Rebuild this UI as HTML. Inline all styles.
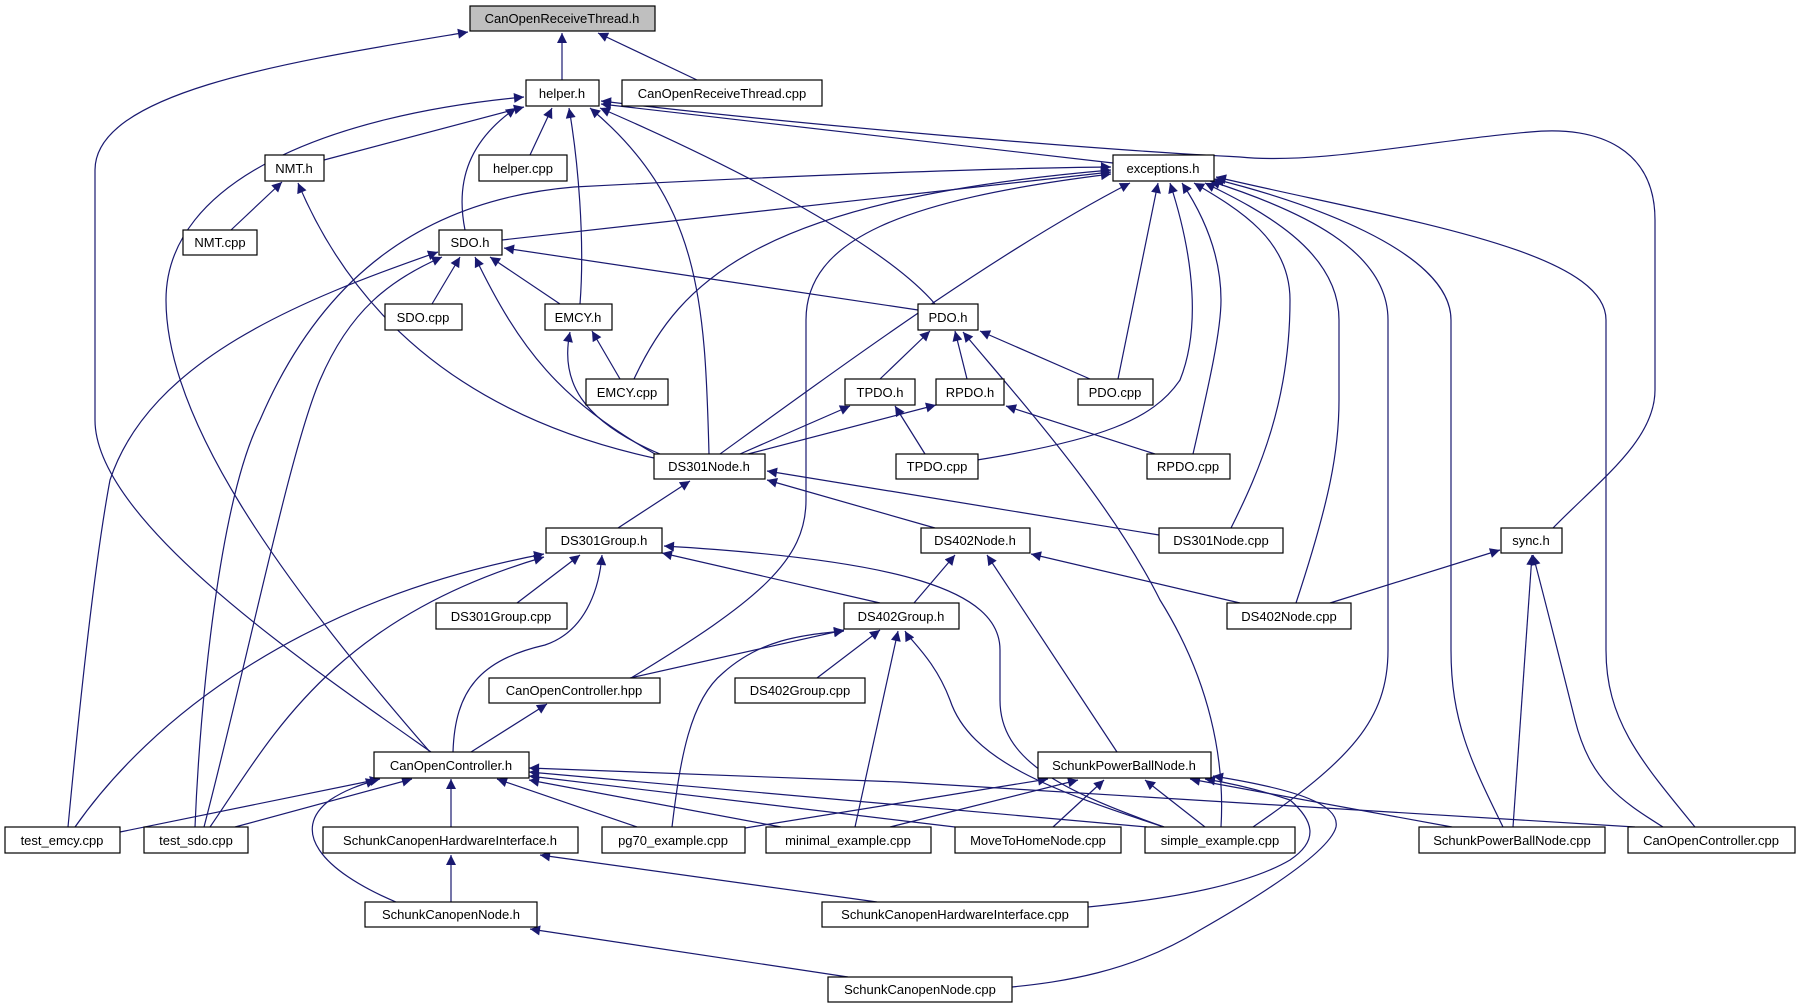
<!DOCTYPE html>
<html><head><meta charset="utf-8"><style>
html,body{margin:0;padding:0;background:#fff;}
svg{display:block;}
text{font-family:"Liberation Sans","DejaVu Sans",sans-serif;font-size:13px;fill:#000;}
</style></head><body>
<svg width="1819" height="1008" viewBox="0 0 1819 1008" xmlns="http://www.w3.org/2000/svg">
<defs>
<marker id="a" viewBox="0 0 10 10" refX="10" refY="5" markerWidth="13" markerHeight="10" markerUnits="userSpaceOnUse" orient="auto"><path d="M0,0 L10,5 L0,10z" fill="#191970"/></marker>
</defs>
<g fill="none" stroke="#191970" stroke-width="1.2" marker-end="url(#a)">
<path d="M562,80 L562,33"/>
<path d="M697,80 L598,33"/>
<path d="M431,752 C300,660 95,520 95,420 L95,170 C95,90 300,60 468,32"/>
<path d="M430,752 C280,580 166,420 166,300 C166,180 330,115 524,97"/>
<path d="M324,160 L524,107"/>
<path d="M530,155 L552,108"/>
<path d="M465,230 C455,180 470,140 516,108"/>
<path d="M580,304 C585,240 578,160 569,108"/>
<path d="M709,454 C705,300 700,200 590,108"/>
<path d="M935,304 C880,240 720,160 600,108"/>
<path d="M1113,163 L601,104"/>
<path d="M1553,528 C1600,480 1655,440 1655,390 L1655,220 C1655,150 1600,125 1530,132 C1430,140 1320,165 1240,157 C1100,150 800,125 601,101"/>
<path d="M502,240 L1111,172"/>
<path d="M634,379 C680,280 760,200 1111,170"/>
<path d="M720,454 C850,360 1000,250 1130,183"/>
<path d="M631,678 C760,600 806,560 806,500 L806,320 C806,240 900,200 1111,174"/>
<path d="M195,827 C200,700 220,500 260,420 C320,280 420,200 574,187 C800,175 1000,168 1111,167"/>
<path d="M1118,379 L1158,183"/>
<path d="M977,460 C1100,440 1153,420 1180,380 C1200,330 1195,260 1170,183"/>
<path d="M1193,454 C1210,380 1221,330 1221,300 C1221,250 1200,210 1182,183"/>
<path d="M1231,528 C1260,470 1290,400 1290,300 C1290,240 1240,210 1194,183"/>
<path d="M1296,603 C1330,500 1339,450 1339,400 L1339,320 C1339,250 1260,210 1205,183"/>
<path d="M1253,827 C1350,760 1388,720 1388,650 L1388,320 C1388,250 1300,210 1210,181"/>
<path d="M1503,827 C1470,760 1451,720 1451,650 L1451,320 C1451,250 1300,200 1214,179"/>
<path d="M1695,827 C1640,760 1606,720 1606,650 L1606,320 C1606,250 1400,220 1216,177"/>
<path d="M432,304 L460,257"/>
<path d="M560,304 L490,257"/>
<path d="M655,454 C560,400 520,350 475,257"/>
<path d="M918,310 L504,248"/>
<path d="M68,827 C80,700 95,560 110,480 C150,360 300,300 438,252"/>
<path d="M204,827 C250,650 290,450 320,380 C350,310 390,280 442,257"/>
<path d="M231,230 L282,182"/>
<path d="M654,458 C480,420 360,330 298,183"/>
<path d="M620,379 L592,331"/>
<path d="M660,454 C580,420 560,380 570,332"/>
<path d="M880,379 L930,331"/>
<path d="M967,379 L955,331"/>
<path d="M1090,379 L980,331"/>
<path d="M1221,827 C1225,760 1210,680 1160,600 C1110,500 1020,400 963,332"/>
<path d="M740,454 L850,406"/>
<path d="M925,454 L895,406"/>
<path d="M748,454 L936,405"/>
<path d="M1155,454 L1006,406"/>
<path d="M618,528 L690,481"/>
<path d="M935,528 L767,480"/>
<path d="M1159,535 L767,471"/>
<path d="M517,603 L580,555"/>
<path d="M880,603 L662,553"/>
<path d="M75,827 C150,720 300,600 544,554"/>
<path d="M210,827 C270,740 330,620 544,557"/>
<path d="M453,752 C455,690 480,660 545,645 C590,630 600,580 602,555"/>
<path d="M1164,827 C1060,790 1000,760 1000,700 L1000,650 C1000,590 900,560 664,546"/>
<path d="M914,603 L955,555"/>
<path d="M1117,752 L987,555"/>
<path d="M1240,603 L1031,554"/>
<path d="M1330,603 L1500,550"/>
<path d="M1513,827 L1532,555"/>
<path d="M1663,827 C1620,800 1590,780 1575,720 C1555,640 1545,600 1533,555"/>
<path d="M630,678 L844,630"/>
<path d="M817,678 L880,630"/>
<path d="M672,827 C680,760 690,700 723,673 C760,640 800,635 844,631"/>
<path d="M855,827 L898,631"/>
<path d="M1164,827 C1050,790 970,760 950,700 C935,660 910,640 905,631"/>
<path d="M471,752 L547,704"/>
<path d="M120,832 L380,779"/>
<path d="M235,827 L412,779"/>
<path d="M451,827 L451,779"/>
<path d="M637,827 L497,779"/>
<path d="M781,827 L529,780"/>
<path d="M955,827 L529,776"/>
<path d="M1147,827 L529,772"/>
<path d="M1635,827 L900,782 L529,768"/>
<path d="M396,902 C320,870 290,830 330,800 C345,790 360,785 376,780"/>
<path d="M451,902 L451,855"/>
<path d="M877,902 L540,855"/>
<path d="M848,977 L530,929"/>
<path d="M745,828 L900,803 L1048,779"/>
<path d="M890,827 L1078,780"/>
<path d="M1053,827 L1104,780"/>
<path d="M1205,827 L1145,780"/>
<path d="M1452,827 L1190,779"/>
<path d="M1088,907 C1160,900 1244,887 1290,860 C1320,840 1313,820 1290,800 C1260,790 1230,783 1205,779"/>
<path d="M1012,987 C1060,982 1130,973 1200,930 C1270,890 1330,850 1336,827 C1340,805 1300,790 1213,776"/>
</g>
<g stroke="#000" stroke-width="1.2">
<rect x="470" y="6" width="185" height="25" fill="#bfbfbf"/>
</g>
<g stroke="#000" stroke-width="1.2" fill="#fff">
<rect x="526" y="80" width="73" height="26"/>
<rect x="622" y="80" width="200" height="26"/>
<rect x="265" y="155" width="59" height="26"/>
<rect x="479" y="155" width="88" height="26"/>
<rect x="1113" y="155" width="101" height="26"/>
<rect x="183" y="230" width="74" height="25"/>
<rect x="439" y="230" width="63" height="25"/>
<rect x="385" y="304" width="77" height="26"/>
<rect x="545" y="304" width="67" height="26"/>
<rect x="918" y="304" width="60" height="26"/>
<rect x="586" y="379" width="82" height="26"/>
<rect x="845" y="379" width="70" height="26"/>
<rect x="936" y="379" width="68" height="26"/>
<rect x="1078" y="379" width="75" height="26"/>
<rect x="654" y="454" width="111" height="25"/>
<rect x="896" y="454" width="82" height="25"/>
<rect x="1147" y="454" width="83" height="25"/>
<rect x="546" y="528" width="116" height="25"/>
<rect x="921" y="528" width="109" height="25"/>
<rect x="1159" y="528" width="124" height="25"/>
<rect x="1501" y="528" width="61" height="25"/>
<rect x="436" y="603" width="131" height="26"/>
<rect x="844" y="603" width="115" height="26"/>
<rect x="1227" y="603" width="124" height="26"/>
<rect x="489" y="678" width="171" height="25"/>
<rect x="735" y="678" width="130" height="25"/>
<rect x="374" y="752" width="155" height="26"/>
<rect x="1038" y="752" width="173" height="26"/>
<rect x="5" y="827" width="115" height="26"/>
<rect x="144" y="827" width="104" height="26"/>
<rect x="323" y="827" width="255" height="26"/>
<rect x="602" y="827" width="143" height="26"/>
<rect x="766" y="827" width="165" height="26"/>
<rect x="955" y="827" width="166" height="26"/>
<rect x="1145" y="827" width="150" height="26"/>
<rect x="1419" y="827" width="186" height="26"/>
<rect x="1628" y="827" width="167" height="26"/>
<rect x="365" y="902" width="172" height="25"/>
<rect x="822" y="902" width="266" height="25"/>
<rect x="828" y="977" width="184" height="25"/>
</g>
<g text-anchor="middle">
<text x="562" y="23">CanOpenReceiveThread.h</text>
<text x="562" y="98">helper.h</text>
<text x="722" y="98">CanOpenReceiveThread.cpp</text>
<text x="294" y="173">NMT.h</text>
<text x="523" y="173">helper.cpp</text>
<text x="1163" y="173">exceptions.h</text>
<text x="220" y="247">NMT.cpp</text>
<text x="470" y="247">SDO.h</text>
<text x="423" y="322">SDO.cpp</text>
<text x="578" y="322">EMCY.h</text>
<text x="948" y="322">PDO.h</text>
<text x="627" y="397">EMCY.cpp</text>
<text x="880" y="397">TPDO.h</text>
<text x="970" y="397">RPDO.h</text>
<text x="1115" y="397">PDO.cpp</text>
<text x="709" y="471">DS301Node.h</text>
<text x="937" y="471">TPDO.cpp</text>
<text x="1188" y="471">RPDO.cpp</text>
<text x="604" y="545">DS301Group.h</text>
<text x="975" y="545">DS402Node.h</text>
<text x="1221" y="545">DS301Node.cpp</text>
<text x="1531" y="545">sync.h</text>
<text x="501" y="621">DS301Group.cpp</text>
<text x="901" y="621">DS402Group.h</text>
<text x="1289" y="621">DS402Node.cpp</text>
<text x="574" y="695">CanOpenController.hpp</text>
<text x="800" y="695">DS402Group.cpp</text>
<text x="451" y="770">CanOpenController.h</text>
<text x="1124" y="770">SchunkPowerBallNode.h</text>
<text x="62" y="845">test_emcy.cpp</text>
<text x="196" y="845">test_sdo.cpp</text>
<text x="450" y="845">SchunkCanopenHardwareInterface.h</text>
<text x="673" y="845">pg70_example.cpp</text>
<text x="848" y="845">minimal_example.cpp</text>
<text x="1038" y="845">MoveToHomeNode.cpp</text>
<text x="1220" y="845">simple_example.cpp</text>
<text x="1512" y="845">SchunkPowerBallNode.cpp</text>
<text x="1711" y="845">CanOpenController.cpp</text>
<text x="451" y="919">SchunkCanopenNode.h</text>
<text x="955" y="919">SchunkCanopenHardwareInterface.cpp</text>
<text x="920" y="994">SchunkCanopenNode.cpp</text>
</g>
</svg>
</body></html>
